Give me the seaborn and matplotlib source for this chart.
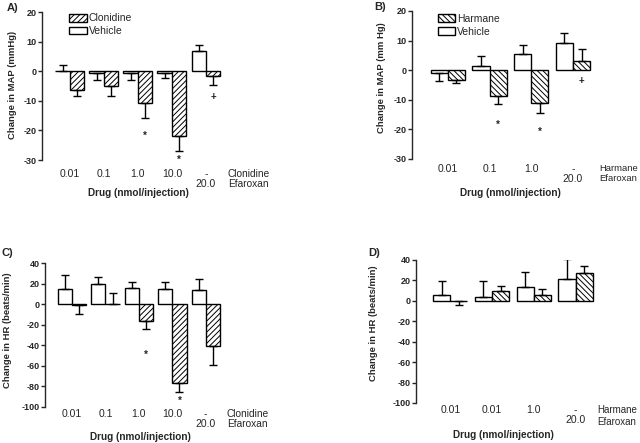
"""
Clonidine / harmane vs vehicle: change in MAP and HR, four panels
"""

import matplotlib
matplotlib.use("Agg")
import matplotlib.pyplot as plt
import seaborn as sns
import numpy as np
import pandas as pd

# Panel A - MAP, clonidine
clon_ticks = ['0.01', '0.1', '1.0', '10.0', '-\n20.0']
map_vehicle_a = [0.2, -0.5, -0.7, -0.5, 6.8]
map_vehicle_a_sem = [1.8, 2.5, 2.3, 1.8, 2.2]
map_clonidine = [-6.2, -5.1, -10.9, -22.0, -1.7]
map_clonidine_sem = [2.3, 3.4, 4.9, 5.0, 3.1]
map_clonidine_marks = [(2, '*', -21.8), (3, '*', -30.0), (4, '+', -8.7)]

# Panel B - MAP, harmane
harm_ticks_b = ['0.01', '0.1', '1.0', '-\n20.0']
map_vehicle_b = [-1.0, 1.5, 5.4, 9.3]
map_vehicle_b_sem = [2.7, 3.2, 3.1, 3.1]
map_harmane = [-3.2, -8.8, -11.0, 3.2]
map_harmane_sem = [1.1, 2.7, 3.5, 3.9]
map_harmane_marks = [(1, '*', -18.5), (2, '*', -20.8), (3, '+', -3.5)]

# Panel C - HR, clonidine
hr_vehicle_c = [15.2, 19.4, 15.9, 14.6, 13.3]
hr_vehicle_c_sem = [12.7, 7.2, 5.5, 7.4, 11.0]
hr_clonidine = [-0.6, 0.5, -16.2, -76.2, -40.5]
hr_clonidine_sem = [9.1, 10.2, 8.1, 9.7, 18.5]
hr_clonidine_marks = [(2, '*', -49.5), (3, '*', -94.5)]

# Panel D - HR, harmane
harm_ticks_d = ['0.01', '0.01', '1.0', '-\n20.0']
hr_vehicle_d = [5.9, 3.9, 13.1, 21.6]
hr_vehicle_d_sem = [13.1, 15.8, 15.1, 19.1]
hr_harmane = [-0.3, 9.8, 5.9, 26.9]
hr_harmane_sem = [4.0, 4.6, 5.6, 6.9]
hr_harmane_marks = []

sns.set_style('ticks')
plt.rcParams['font.family'] = ['Liberation Sans', 'DejaVu Sans']
plt.rcParams['hatch.linewidth'] = 0.7
plt.rcParams['axes.unicode_minus'] = False


def draw_panel(ax, ticks, veh, veh_sem, drug, drug_sem, drug_name, hatch,
               marks, ylim, ystep, ylabel, width, xlim):
    n = len(ticks)
    df = pd.DataFrame({
        'group': list(range(n)) * 2,
        'value': list(veh) + list(drug),
        'sem': list(veh_sem) + list(drug_sem),
        'treatment': ['Vehicle'] * n + [drug_name] * n,
    })
    sns.barplot(data=df, x='group', y='value', hue='treatment',
                hue_order=['Vehicle', drug_name],
                palette={'Vehicle': 'white', drug_name: 'white'},
                edgecolor='black', linewidth=1, width=width,
                errorbar=None, legend=False, ax=ax)
    veh_bars, drug_bars = ax.containers[:2]
    for p in drug_bars:
        p.set_hatch(hatch)

    # one-sided error bars, pointing away from zero
    for bars, name in zip((veh_bars, drug_bars), ('Vehicle', drug_name)):
        d = df[df['treatment'] == name]
        vals = d['value'].to_numpy()
        sems = d['sem'].to_numpy()
        xs = [p.get_x() + p.get_width() / 2 for p in bars]
        up = np.where(vals >= 0, sems, 0)
        down = np.where(vals < 0, sems, 0)
        ax.errorbar(xs, vals, yerr=[down, up], fmt='none',
                    ecolor='black', elinewidth=1, capsize=3, capthick=1)

    for g, sym, y in marks:
        p = drug_bars[g]
        ax.text(p.get_x() + p.get_width() / 2, y, sym, ha='center',
                va='center', fontsize=7, fontweight='bold')

    ax.set_ylim(*ylim)
    ax.set_yticks(np.arange(ylim[0], ylim[1] + 1, ystep))
    ax.set_xlim(*xlim)
    ax.set_xticks(range(n))
    ax.set_xticklabels(ticks, fontsize=7.5, linespacing=1.0)
    ax.tick_params(axis='x', length=0)
    ax.tick_params(axis='y', length=3, width=1, pad=1, labelsize=6.5)
    for t in ax.get_yticklabels():
        t.set_fontweight('bold')
    sns.despine(ax=ax, bottom=True)
    ax.spines['left'].set_linewidth(1)
    ax.set_ylabel(ylabel, fontsize=6.8, fontweight='bold')
    ax.set_xlabel('Drug (nmol/injection)', fontsize=7.2, fontweight='bold',
                  va='top')
    return veh_bars, drug_bars


fig = plt.figure(figsize=(6.4, 4.43), dpi=100)

ax_a = fig.add_axes([0.0656, 0.6388, 0.286, 0.3341])
va, da = draw_panel(ax_a, clon_ticks, map_vehicle_a, map_vehicle_a_sem,
                    map_clonidine, map_clonidine_sem, 'Clonidine', '//////',
                    map_clonidine_marks, (-30, 20), 10,
                    'Change in MAP (mmHg)', 0.85, (-0.82, 4.56))
ax_a.legend([da, va], ['Clonidine', 'Vehicle'], loc='upper left',
            bbox_to_anchor=(0.15, 0.99), frameon=False, fontsize=7.5,
            handlelength=1.65, handleheight=0.75, handletextpad=0.2,
            labelspacing=0.25, borderpad=0, borderaxespad=0)
ax_a.tick_params(axis='x', pad=6.5)
ax_a.yaxis.set_label_coords(-0.137, 0.51)
ax_a.xaxis.set_label_coords(0.525, -0.19)
ax_a.text(1.016, -0.061, 'Clonidine\nEfaroxan', transform=ax_a.transAxes,
          ha='left', va='top', fontsize=7.3, linespacing=1.05)

ax_b = fig.add_axes([0.6438, 0.6411, 0.286, 0.3341])
vb, db = draw_panel(ax_b, harm_ticks_b, map_vehicle_b, map_vehicle_b_sem,
                    map_harmane, map_harmane_sem, 'Harmane', '\\\\\\\\\\\\',
                    map_harmane_marks, (-30, 20), 10,
                    'Change in MAP (mm Hg)', 0.82, (-0.86, 3.53))
ax_b.legend([db, vb], ['Harmane', 'Vehicle'], loc='upper left',
            bbox_to_anchor=(0.142, 0.98), frameon=False, fontsize=7.5,
            handlelength=1.65, handleheight=0.75, handletextpad=0.2,
            labelspacing=0.25, borderpad=0, borderaxespad=0)
ax_b.tick_params(axis='x', pad=3.6)
ax_b.yaxis.set_label_coords(-0.142, 0.55)
ax_b.xaxis.set_label_coords(0.536, -0.196)
ax_b.text(1.022, -0.034, 'Harmane\nEfaroxan', transform=ax_b.transAxes,
          ha='left', va='top', fontsize=6.8, linespacing=1.2)

ax_c = fig.add_axes([0.0703, 0.0813, 0.281, 0.325])
draw_panel(ax_c, clon_ticks, hr_vehicle_c, hr_vehicle_c_sem,
           hr_clonidine, hr_clonidine_sem, 'Clonidine', '//////',
           hr_clonidine_marks, (-100, 40), 20,
           'Change in HR (beats/min)', 0.85, (-0.81, 4.57))
ax_c.tick_params(axis='x', pad=1.5)
ax_c.yaxis.set_label_coords(-0.183, 0.53)
ax_c.xaxis.set_label_coords(0.528, -0.174)
ax_c.text(1.011, -0.014, 'Clonidine\nEfaroxan', transform=ax_c.transAxes,
          ha='left', va='top', fontsize=7.3, linespacing=1.0)

ax_d = fig.add_axes([0.65, 0.0903, 0.28, 0.3228])
draw_panel(ax_d, harm_ticks_d, hr_vehicle_d, hr_vehicle_d_sem,
           hr_harmane, hr_harmane_sem, 'Harmane', '\\\\\\\\\\\\',
           hr_harmane_marks, (-100, 40), 20,
           'Change in HR (beats/min)', 0.82, (-0.82, 3.47))
ax_d.tick_params(axis='x', pad=1.5)
ax_d.yaxis.set_label_coords(-0.212, 0.56)
ax_d.xaxis.set_label_coords(0.486, -0.189)
ax_d.text(1.011, -0.014, 'Harmane\nEfaroxan', transform=ax_d.transAxes,
          ha='left', va='top', fontsize=7, linespacing=1.25)

for label, x, y in [('A)', 0.01, 0.982), ('B)', 0.585, 0.985),
                    ('C)', 0.003, 0.43), ('D)', 0.575, 0.43)]:
    fig.text(x, y, label, fontsize=8, fontweight='bold', ha='left',
             va='center')

fig.savefig('out.png', dpi=100)
